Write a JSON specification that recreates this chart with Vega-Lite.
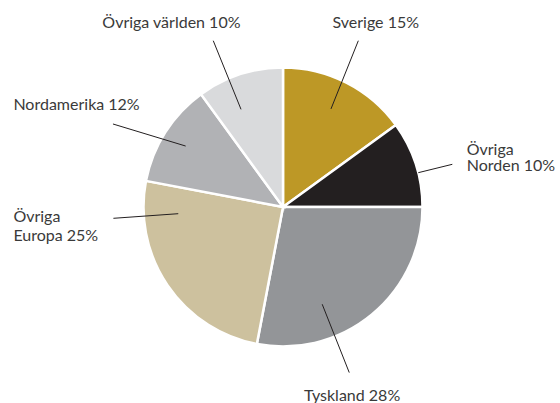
{
  "$schema": "https://vega.github.io/schema/vega-lite/v6.json",
  "width": 554,
  "height": 392,
  "autosize": "none",
  "padding": {"left": 6, "right": 0, "top": 11, "bottom": 0},
  "background": "white",
  "config": {"view": {"stroke": null}},
  "datasets": {
    "slices": [
      {"idx": 1, "region": "Sverige", "share": 15},
      {"idx": 2, "region": "Övriga Norden", "share": 10},
      {"idx": 3, "region": "Tyskland", "share": 28},
      {"idx": 4, "region": "Övriga Europa", "share": 25},
      {"idx": 5, "region": "Nordamerika", "share": 12},
      {"idx": 6, "region": "Övriga världen", "share": 10}
    ],
    "leaders": [
      {"region": "Sverige", "x": 0.540, "y": 1.192},
      {"region": "Sverige", "x": 0.344, "y": 0.703},
      {"region": "Övriga Norden", "x": 0.970, "y": 0.246},
      {"region": "Övriga Norden", "x": 1.214, "y": 0.306},
      {"region": "Tyskland", "x": 0.281, "y": -0.697},
      {"region": "Tyskland", "x": 0.475, "y": -1.187},
      {"region": "Övriga Europa", "x": -1.216, "y": -0.081},
      {"region": "Övriga Europa", "x": -0.751, "y": -0.048},
      {"region": "Nordamerika", "x": -1.219, "y": 0.595},
      {"region": "Nordamerika", "x": -0.698, "y": 0.437},
      {"region": "Övriga världen", "x": -0.500, "y": 1.192},
      {"region": "Övriga världen", "x": -0.301, "y": 0.700}
    ],
    "labels": [
      {"text": "Sverige 15%", "x": 0.665, "y": 1.281, "align": "center"},
      {"text": "Övriga", "x": 1.317, "y": 0.373, "align": "left"},
      {"text": "Norden 10%", "x": 1.317, "y": 0.258, "align": "left"},
      {"text": "Tyskland 28%", "x": 0.495, "y": -1.391, "align": "center"},
      {"text": "Övriga", "x": -1.933, "y": -0.108, "align": "left"},
      {"text": "Europa 25%", "x": -1.933, "y": -0.244, "align": "left"},
      {"text": "Nordamerika 12%", "x": -1.933, "y": 0.695, "align": "left"},
      {"text": "Övriga världen 10%", "x": -0.800, "y": 1.281, "align": "center"}
    ]
  },
  "layer": [
    {
      "data": {"name": "slices"},
      "mark": {"type": "arc", "outerRadius": 139.5, "stroke": "white", "strokeWidth": 2.5},
      "encoding": {
        "theta": {"field": "share", "type": "quantitative", "stack": true},
        "order": {"field": "idx", "type": "quantitative"},
        "color": {
          "field": "region",
          "type": "nominal",
          "legend": null,
          "scale": {
            "domain": ["Sverige", "Övriga Norden", "Tyskland", "Övriga Europa", "Nordamerika", "Övriga världen"],
            "range": ["#BD9826", "#231F20", "#939598", "#CDC19E", "#B1B2B5", "#D9DADC"]
          }
        }
      }
    },
    {
      "data": {"name": "leaders"},
      "mark": {"type": "line", "color": "#231F20", "strokeWidth": 1},
      "encoding": {
        "x": {"field": "x", "type": "quantitative", "axis": null, "scale": {"domain": [-1.986, 1.986], "nice": false, "zero": false}},
        "y": {"field": "y", "type": "quantitative", "axis": null, "scale": {"domain": [-1.405, 1.405], "nice": false, "zero": false}},
        "detail": {"field": "region", "type": "nominal"}
      }
    },
    {
      "data": {"name": "labels"},
      "transform": [{"filter": "datum.align === 'left'"}],
      "mark": {"type": "text", "font": "Lato", "fontSize": 16, "color": "#3a3a3a", "baseline": "alphabetic", "align": "left"},
      "encoding": {
        "x": {"field": "x", "type": "quantitative", "axis": null, "scale": {"domain": [-1.986, 1.986], "nice": false, "zero": false}},
        "y": {"field": "y", "type": "quantitative", "axis": null, "scale": {"domain": [-1.405, 1.405], "nice": false, "zero": false}},
        "text": {"field": "text"}
      }
    },
    {
      "data": {"name": "labels"},
      "transform": [{"filter": "datum.align === 'center'"}],
      "mark": {"type": "text", "font": "Lato", "fontSize": 16, "color": "#3a3a3a", "baseline": "alphabetic", "align": "center"},
      "encoding": {
        "x": {"field": "x", "type": "quantitative", "axis": null, "scale": {"domain": [-1.986, 1.986], "nice": false, "zero": false}},
        "y": {"field": "y", "type": "quantitative", "axis": null, "scale": {"domain": [-1.405, 1.405], "nice": false, "zero": false}},
        "text": {"field": "text"}
      }
    }
  ]
}
